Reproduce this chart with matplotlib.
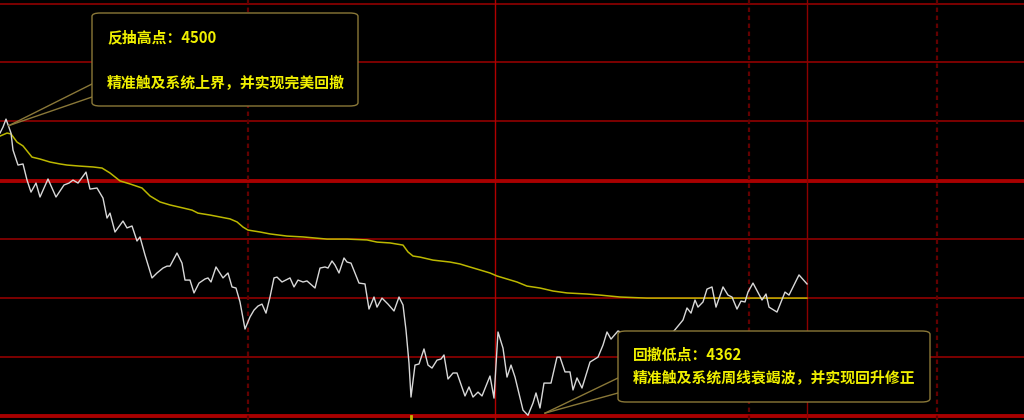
import matplotlib
matplotlib.use('Agg')
import matplotlib.pyplot as plt
from matplotlib.patches import FancyBboxPatch
from matplotlib.lines import Line2D

plt.rcParams['font.family'] = ['Noto Sans CJK SC', 'DejaVu Sans']

# ========== Data ==========
# intraday price (time index, price)
price_t = [0, 3, 6, 11, 13, 18, 23, 27, 31, 36, 40, 48, 56, 64, 69, 73, 78, 86, 90, 97,
           103, 107, 110, 115, 123, 127, 132, 137, 140, 145, 152, 157, 163, 167, 170, 177, 182, 185, 190, 194,
           199, 205, 208, 211, 216, 223, 228, 232, 236, 240, 245, 250, 254, 258, 262, 266, 270, 274, 277, 282,
           290, 294, 298, 303, 307, 315, 320, 325, 328, 332, 335, 339, 344, 347, 351, 355, 359, 365, 369, 374,
           377, 382, 388, 394, 399, 403, 406, 409, 411, 415, 419, 424, 428, 432, 437, 441, 444, 448, 453, 457,
           465, 469, 473, 478, 482, 490, 494, 498, 503, 507, 511, 515, 523, 528, 533, 536, 540, 544, 551, 557,
           560, 565, 570, 573, 577, 582, 590, 598, 603, 607, 611, 618, 630, 645, 660, 674, 683, 687, 691, 695,
           698, 703, 707, 712, 716, 723, 728, 732, 737, 741, 745, 748, 753, 762, 766, 769, 777, 785, 789, 799,
           807]
price = [4493.5, 4496.3, 4500.0, 4493.5, 4485.6, 4478.6, 4479.1, 4471.6, 4466.0, 4470.2,
         4463.7, 4472.1, 4463.7, 4469.3, 4470.2, 4471.6, 4470.2, 4475.3, 4467.4, 4467.9,
         4463.2, 4453.9, 4456.2, 4447.4, 4452.5, 4449.3, 4450.2, 4443.2, 4445.1, 4436.7,
         4426.0, 4428.3, 4430.6, 4431.5, 4431.5, 4437.6, 4432.9, 4425.0, 4425.0, 4419.0,
         4423.6, 4425.5, 4426.0, 4424.1, 4431.1, 4426.0, 4428.3, 4421.8, 4421.3, 4414.8,
         4402.2, 4407.8, 4411.0, 4412.9, 4413.8, 4409.6, 4417.1, 4426.0, 4426.4, 4424.1,
         4426.0, 4421.8, 4425.0, 4424.1, 4424.6, 4421.3, 4430.6, 4431.1, 4430.6, 4433.9,
         4432.0, 4428.3, 4435.3, 4433.4, 4432.9, 4428.3, 4423.6, 4423.2, 4411.5, 4417.1,
         4412.4, 4416.6, 4413.8, 4410.6, 4417.1, 4413.4, 4401.7, 4386.3, 4370.5, 4385.4,
         4385.9, 4392.9, 4385.4, 4384.0, 4387.7, 4388.2, 4390.1, 4378.9, 4381.7, 4381.7,
         4371.0, 4375.2, 4370.5, 4372.8, 4371.0, 4380.3, 4370.0, 4400.8, 4393.3, 4379.8,
         4385.4, 4379.8, 4364.4, 4362.0, 4367.7, 4372.4, 4365.4, 4377.0, 4377.0, 4389.1,
         4389.1, 4382.2, 4382.2, 4373.8, 4379.4, 4374.7, 4386.8, 4389.1, 4394.7, 4400.8,
         4397.5, 4401.3, 4398.9, 4396.1, 4397.1, 4401.3, 4406.4, 4412.0, 4409.6, 4415.7,
         4412.4, 4414.8, 4420.8, 4421.8, 4412.4, 4421.8, 4418.0, 4417.1, 4411.5, 4415.2,
         4414.8, 4419.4, 4423.6, 4415.7, 4418.5, 4412.4, 4410.1, 4419.4, 4418.0, 4427.4,
         4423.2]

# average price line
avg_t = [0, 7, 11, 17, 23, 32, 40, 50, 60, 67, 80, 93, 102, 110, 120, 130, 142, 150, 160, 170,
         183, 192, 198, 210, 220, 230, 237, 243, 248, 260, 270, 287, 303, 327, 347, 367, 377, 390, 403, 408,
         413, 420, 433, 450, 460, 467, 480, 490, 497, 507, 517, 527, 540, 553, 567, 587, 600, 620, 647, 673,
         807]
avg = [4492.1, 4493.5, 4493.1, 4489.3, 4487.5, 4482.3, 4481.4, 4480.0, 4479.1, 4478.6,
       4478.1, 4477.7, 4477.2, 4474.9, 4471.2, 4469.8, 4467.9, 4464.2, 4461.4, 4460.0,
       4458.6, 4457.6, 4456.2, 4455.3, 4454.4, 4453.5, 4452.1, 4449.7, 4448.3, 4447.4,
       4446.5, 4445.5, 4445.1, 4444.1, 4444.1, 4443.7, 4442.7, 4442.3, 4441.3, 4438.1,
       4436.2, 4435.7, 4434.3, 4433.4, 4432.5, 4431.5, 4429.7, 4428.3, 4426.9, 4425.5,
       4424.1, 4422.2, 4421.3, 4419.9, 4419.0, 4418.5, 4418.0, 4417.1, 4416.6, 4416.6,
       4416.6]

# horizontal levels
levels_thin = [4553.6, 4526.6, 4499.1, 4444.1, 4416.6, 4389.1]
levels_thick = [4471.2, 4361.6]
# vertical time markers
vlines_dashed = [248, 749, 937]
vlines_solid = [495, 807]
cursor_t = 411

high_point = (9, 4497.0)
low_point = (545, 4363.0)
high_title = '反抽高点：4500'
high_text = '精准触及系统上界，并实现完美回撤'
low_title = '回撤低点：4362'
low_text = '精准触及系统周线衰竭波，并实现回升修正'

# ========== Plot ==========
W, H = 1024, 420
fig = plt.figure(figsize=(W / 100, H / 100), dpi=100, facecolor='black')
ax = fig.add_axes([0, 0, 1, 1])
ax.set_facecolor('black')
ax.set_xlim(0, 1024)
ax.set_ylim(4359.8, 4555.5)
ax.axis('off')

for lv in levels_thin:
    ax.axhline(lv, color='#850000', linewidth=1.3, zorder=1)
for lv in levels_thick:
    ax.axhline(lv, color='#a80000', linewidth=2.8, zorder=1)
for t in vlines_dashed:
    ax.axvline(t, color='#620000', linewidth=1.6, linestyle=(0, (2, 1.6)), zorder=1)
ax.axvline(vlines_solid[0], color='#b00000', linewidth=1.0, zorder=1)
ax.axvline(vlines_solid[1], color='#8c0000', linewidth=1.0, zorder=1)
ax.axvline(cursor_t, ymin=0, ymax=0.01, color='#c8b400', linewidth=2, zorder=2)

ax.plot(avg_t, avg, color='#bcb800', linewidth=1.1, zorder=2)
ax.plot(price_t, price, color='#d8d8d8', linewidth=1.0, zorder=3)


def px(x, y):
    # pixel position (from top-left) -> figure fraction
    return x / W, 1 - y / H


def to_fig(pt):
    return fig.transFigure.inverted().transform(ax.transData.transform(pt))


box_color = '#8a7838'


def callout(x0, y0, x1, y1, anchor, edge_ys, title, text, title_y, text_y):
    fx, fy = px(x0, y1)
    w, h = (x1 - x0) / W, (y1 - y0) / H
    box = FancyBboxPatch((fx, fy), w, h, boxstyle='round,pad=0,rounding_size=0.008',
                         transform=fig.transFigure, facecolor='black', edgecolor=box_color,
                         linewidth=1.0, zorder=5)
    fig.add_artist(box)
    a = to_fig(anchor)
    for ey in edge_ys:
        b = px(x0, ey)
        fig.add_artist(Line2D([a[0], b[0]], [a[1], b[1]], transform=fig.transFigure,
                              color=box_color, linewidth=1.0, zorder=4))
    tx, ty = px(x0 + 15, title_y)
    fig.text(tx, ty, title, color='#f0f000', fontsize=10.7, fontweight='bold',
             va='center', ha='left', zorder=6)
    tx, ty = px(x0 + 15, text_y)
    fig.text(tx, ty, text, color='#f0f000', fontsize=10.7, fontweight='bold',
             va='center', ha='left', zorder=6)


callout(92, 13, 358, 106, high_point, [84, 97], high_title, high_text, 37, 83)
callout(618, 331, 930, 402, low_point, [378, 393], low_title, low_text, 355, 378)

fig.savefig('out.png', dpi=100, facecolor='black')
